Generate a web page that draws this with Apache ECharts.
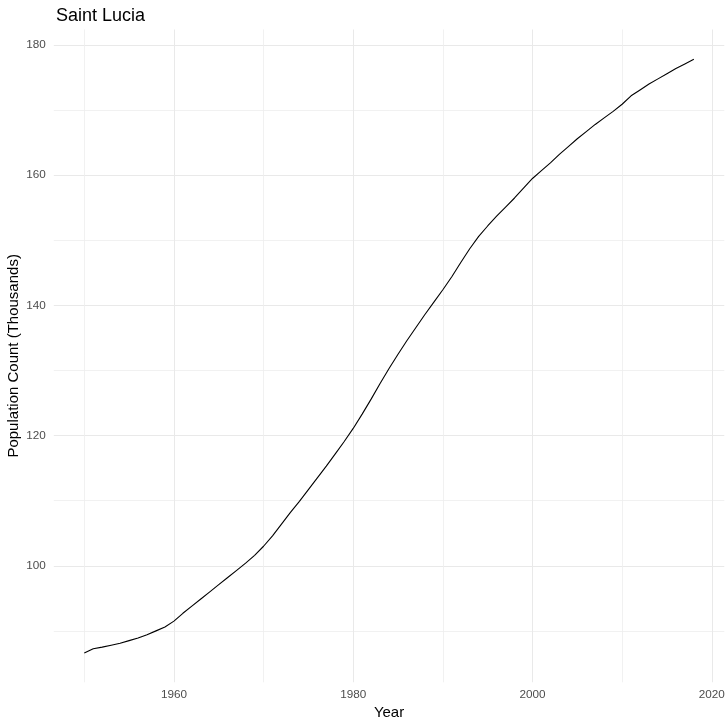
<!DOCTYPE html>
<html>
<head>
<meta charset="utf-8">
<script src="https://cdn.jsdelivr.net/npm/echarts@6/dist/echarts.min.js"></script>
<style>
  html, body { margin: 0; padding: 0; background: #ffffff; }
  #chart { width: 727px; height: 720px; }
</style>
</head>
<body>
<div id="chart"></div>
<script>
const titleText = "Saint Lucia";
const xTitle = "Year";
const yTitle = "Population Count (Thousands)";

const years = [
  1950, 1951, 1952, 1953, 1954, 1955, 1956, 1957, 1958, 1959,
  1960, 1961, 1962, 1963, 1964, 1965, 1966, 1967, 1968, 1969,
  1970, 1971, 1972, 1973, 1974, 1975, 1976, 1977, 1978, 1979,
  1980, 1981, 1982, 1983, 1984, 1985, 1986, 1987, 1988, 1989,
  1990, 1991, 1992, 1993, 1994, 1995, 1996, 1997, 1998, 1999,
  2000, 2001, 2002, 2003, 2004, 2005, 2006, 2007, 2008, 2009,
  2010, 2011, 2012, 2013, 2014, 2015, 2016, 2017, 2018
];
const population = [
  86.6, 87.25, 87.5, 87.8, 88.1, 88.5, 88.9, 89.4, 90.0, 90.6,
  91.5, 92.7, 93.8, 94.9, 96.0, 97.1, 98.2, 99.3, 100.4, 101.6,
  103.0, 104.6, 106.4, 108.2, 109.9, 111.7, 113.5, 115.3, 117.2, 119.1,
  121.1, 123.3, 125.6, 128.0, 130.3, 132.5, 134.6, 136.6, 138.6, 140.5,
  142.4, 144.4, 146.6, 148.7, 150.6, 152.2, 153.7, 155.1, 156.5, 158.0,
  159.5, 160.7, 161.9, 163.2, 164.4, 165.6, 166.7, 167.8, 168.8, 169.8,
  170.9, 172.2, 173.1, 174.0, 174.8, 175.6, 176.4, 177.1, 177.8
];

const xMin = 1946.6, xMax = 2021.4;
const yMin = 82.1, yMax = 182.4;

const seriesData = years.map((y, i) => [y, population[i]]);

const gridColor = '#e9e9e9';
const fontFamily = '"Liberation Sans", Arial, Helvetica, sans-serif';

const chart = echarts.init(document.getElementById('chart'), null, { renderer: 'canvas' });
chart.setOption({
  animation: false,
  backgroundColor: '#ffffff',
  title: {
    text: titleText,
    left: 51,
    top: 2,
    textStyle: { fontFamily: fontFamily, fontSize: 18, fontWeight: 'normal', color: '#000000' }
  },
  grid: { left: 53.8, right: 2.7, top: 29.4, bottom: 37.7, outerBoundsMode: 'none', containLabel: false },
  xAxis: {
    type: 'value',
    min: xMin,
    max: xMax,
    splitNumber: 4,
    name: xTitle,
    nameLocation: 'middle',
    nameGap: 23,
    nameMoveOverlap: false,
    nameTextStyle: { fontFamily: fontFamily, fontSize: 15, color: '#000000' },
    axisLine: { show: false },
    axisTick: { show: false },
    axisLabel: {
      showMinLabel: false, showMaxLabel: false,
      margin: 6,
      formatter: (v) => String(Math.round(v)),
      fontFamily: fontFamily, fontSize: 11.73, color: '#4d4d4d'
    },
    splitLine: { show: true, showMinLine: false, showMaxLine: false, lineStyle: { color: gridColor, width: 1.07 } },
    minorTick: { show: false, splitNumber: 2 },
    minorSplitLine: { show: true, lineStyle: { color: '#eeeeee', width: 0.8 } }
  },
  yAxis: {
    type: 'value',
    min: yMin,
    max: yMax,
    splitNumber: 5,
    name: yTitle,
    nameLocation: 'middle',
    nameGap: 32.5,
    nameMoveOverlap: false,
    nameTextStyle: { fontFamily: fontFamily, fontSize: 15, color: '#000000' },
    axisLine: { show: false },
    axisTick: { show: false },
    axisLabel: {
      showMinLabel: false, showMaxLabel: false,
      margin: 8,
      formatter: (v) => String(Math.round(v)),
      fontFamily: fontFamily, fontSize: 11.73, color: '#4d4d4d'
    },
    splitLine: { show: true, showMinLine: false, showMaxLine: false, lineStyle: { color: gridColor, width: 1.07 } },
    minorTick: { show: false, splitNumber: 2 },
    minorSplitLine: { show: true, lineStyle: { color: '#eeeeee', width: 0.8 } }
  },
  series: [{
    type: 'line',
    data: seriesData,
    showSymbol: false,
    symbol: 'none',
    smooth: false,
    lineStyle: { color: '#000000', width: 1.1 },
    silent: true
  }]
});
</script>
</body>
</html>
